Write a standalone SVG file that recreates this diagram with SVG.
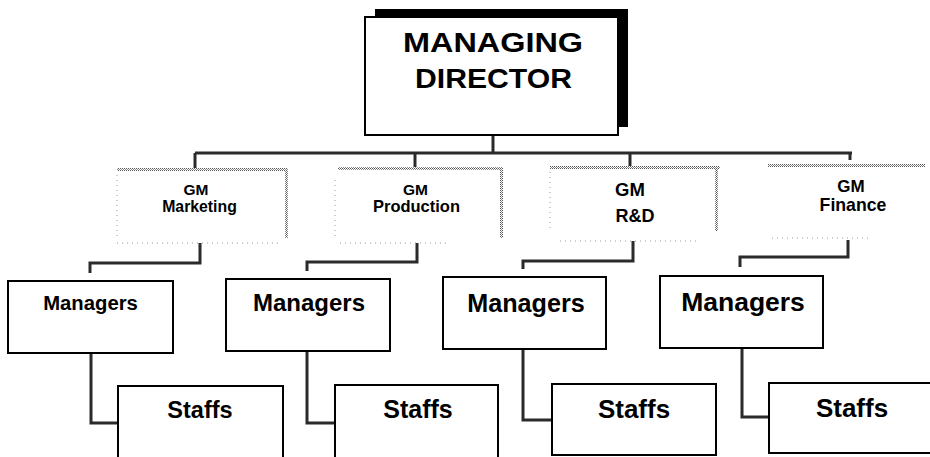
<svg xmlns="http://www.w3.org/2000/svg" width="930" height="457" viewBox="0 0 930 457">
  <defs>
    <!-- halftone dither used for the light GM box outlines -->
    <pattern id="stipple" width="2" height="2" patternUnits="userSpaceOnUse">
      <rect width="2" height="2" fill="#ffffff"/>
      <rect x="0" y="0" width="1" height="1" fill="#555"/>
      <rect x="1" y="1" width="1" height="1" fill="#888"/>
    </pattern>
  </defs>
  <style>
    text { font-family: "Liberation Sans", Arial, sans-serif; font-weight: bold; fill: #000; text-anchor: middle; }
    .box { fill: #fff; stroke: #000; stroke-width: 2; }
    .faint { fill: none; stroke: #9a9a9a; stroke-width: 1; stroke-dasharray: 1 4; }
    .edge { fill: url(#stipple); }
    .conn { fill: none; stroke: #2b2b2b; stroke-width: 3; stroke-linejoin: miter; }
  </style>
  <rect width="930" height="457" fill="#fff"/>

  <!-- connectors -->
  <g id="connectors">
    <path class="conn" d="M493 135 V153"/>
    <path class="conn" d="M195 153 H852"/>
    <path class="conn" d="M195 153 V168"/>
    <path class="conn" d="M415 153 V167"/>
    <path class="conn" d="M630 153 V166"/>
    <path class="conn" d="M850 153 V160"/>
    <path class="conn" d="M200 243 V263 H90 V273"/>
    <path class="conn" d="M417 243 V262 H307 V271"/>
    <path class="conn" d="M633 241 V261 H523 V269"/>
    <path class="conn" d="M848 240 V257 H740 V267"/>
    <path class="conn" d="M91 353 V423 H118"/>
    <path class="conn" d="M307 351 V423 H335"/>
    <path class="conn" d="M523 349 V420 H552"/>
    <path class="conn" d="M742 348 V417 H769"/>
  </g>

  <!-- top node -->
  <g id="managing-director">
    <rect x="375" y="9" width="253" height="118" fill="#000"/>
    <rect class="box" x="365" y="17" width="253" height="118"/>
    <text x="493" y="52" font-size="27" textLength="180" lengthAdjust="spacingAndGlyphs">MANAGING</text>
    <text x="493.5" y="88" font-size="27" textLength="157" lengthAdjust="spacingAndGlyphs">DIRECTOR</text>
  </g>

  <!-- general managers -->
  <g id="gm-marketing">
    <rect class="edge" x="117" y="168" width="171" height="3"/>
    <rect class="edge" x="285" y="168" width="3" height="70"/>
    <path class="faint" d="M117 175 V236 M117 243 H282"/>
    <text x="196" y="195" font-size="15.5">GM</text>
    <text x="199.5" y="212" font-size="15.8">Marketing</text>
  </g>
  <g id="gm-production">
    <rect class="edge" x="338" y="167" width="165" height="3"/>
    <rect class="edge" x="500" y="167" width="3" height="71"/>
    <path class="faint" d="M335 180 V236 M340 243 H448"/>
    <text x="415.5" y="195" font-size="15.5">GM</text>
    <text x="416.5" y="212" font-size="16.5">Production</text>
  </g>
  <g id="gm-rd">
    <rect class="edge" x="550" y="166" width="170" height="3"/>
    <rect class="edge" x="715" y="166" width="3" height="65"/>
    <path class="faint" d="M550 172 V230 M560 241 H700"/>
    <text x="630" y="196" font-size="18.5">GM</text>
    <text x="635" y="222" font-size="18">R&amp;D</text>
  </g>
  <g id="gm-finance">
    <rect class="edge" x="768" y="164" width="157" height="3"/>
    <path class="faint" d="M772 238 H868"/>
    <text x="851" y="192" font-size="17">GM</text>
    <text x="853" y="211" font-size="17.7">Finance</text>
  </g>

  <!-- managers -->
  <g id="managers-1">
    <rect class="box" x="8" y="281" width="165" height="72"/>
    <text x="90.5" y="310" font-size="20.3">Managers</text>
  </g>
  <g id="managers-2">
    <rect class="box" x="226" y="279" width="164" height="72"/>
    <text x="309" y="311" font-size="24">Managers</text>
  </g>
  <g id="managers-3">
    <rect class="box" x="443" y="277" width="163" height="72"/>
    <text x="526" y="312" font-size="25.2">Managers</text>
  </g>
  <g id="managers-4">
    <rect class="box" x="660" y="276" width="163" height="72"/>
    <text x="743" y="311" font-size="26.5">Managers</text>
  </g>

  <!-- staff -->
  <g id="staffs-1">
    <rect class="box" x="118" y="386" width="165" height="74"/>
    <text x="200" y="418" font-size="23.5">Staffs</text>
  </g>
  <g id="staffs-2">
    <rect class="box" x="335" y="385" width="163" height="74"/>
    <text x="418" y="418" font-size="25">Staffs</text>
  </g>
  <g id="staffs-3">
    <rect class="box" x="552" y="384" width="164" height="71"/>
    <text x="634" y="418" font-size="26">Staffs</text>
  </g>
  <g id="staffs-4">
    <rect class="box" x="769" y="383" width="170" height="70"/>
    <text x="852" y="417" font-size="26">Staffs</text>
  </g>
</svg>
